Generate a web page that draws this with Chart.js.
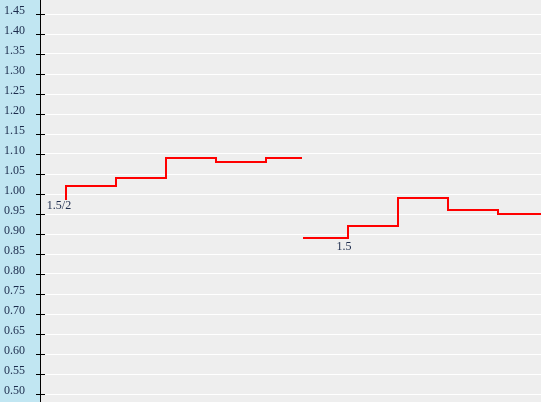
<!DOCTYPE html>
<html>
<head>
<meta charset="utf-8">
<script src="https://cdn.jsdelivr.net/npm/chart.js@4/dist/chart.umd.min.js"></script>
<style>
  html, body { margin: 0; padding: 0; background: #eeeeee; }
  #wrap { width: 541px; height: 402px; }
</style>
</head>
<body>
<div id="wrap"><canvas id="stepChart"></canvas></div>
<script>
// tick values on the y axis
const yTicks = [0.50, 0.55, 0.60, 0.65, 0.70, 0.75, 0.80, 0.85, 0.90, 0.95,
                1.00, 1.05, 1.10, 1.15, 1.20, 1.25, 1.30, 1.35, 1.40, 1.45];

// first step series
const series1X = [0.52, 0.52, 1.52, 2.52, 3.52, 4.52, 5.24];
const series1Y = [0.985, 1.02, 1.04, 1.09, 1.08, 1.09, 1.09];

// second step series
const series2X = [5.26, 6.16, 7.16, 8.16, 9.16, 10.4];
const series2Y = [0.89, 0.92, 0.99, 0.96, 0.95, 0.95];

// text labels
const markLabels = ['1.5/2', '1.5'];
const markX = [0.38, 6.08];
const markY = [0.97, 0.868];

const toPoints = (xs, ys) => xs.map((x, i) => ({ x: x, y: ys[i] }));

const textColor = '#1c2b4c';

const backdrop = {
    id: 'backdrop',
    beforeDraw(chart) {
        const { ctx, chartArea } = chart;
        ctx.save();
        ctx.fillStyle = '#c1e6f2';
        ctx.fillRect(0, 0, chartArea.left, chart.height);
        ctx.fillStyle = '#eeeeee';
        ctx.fillRect(chartArea.left, 0, chart.width - chartArea.left, chart.height);
        ctx.restore();
    },
    afterDraw(chart) {
        const { ctx, chartArea } = chart;
        const y = chart.scales.y;
        const x = chart.scales.x;
        ctx.save();
        // tick marks crossing the axis line
        ctx.strokeStyle = '#000';
        ctx.lineWidth = 1;
        y.ticks.forEach(t => {
            const py = Math.round(y.getPixelForValue(t.value)) + 0.5;
            ctx.beginPath();
            ctx.moveTo(chartArea.left - 4, py);
            ctx.lineTo(chartArea.left + 5, py);
            ctx.stroke();
        });
        // point labels
        ctx.fillStyle = textColor;
        ctx.font = '12px "Liberation Serif", "DejaVu Serif", serif';
        ctx.textAlign = 'center';
        ctx.textBaseline = 'middle';
        markLabels.forEach((txt, i) => {
            ctx.fillText(txt, x.getPixelForValue(markX[i]), y.getPixelForValue(markY[i]));
        });
        ctx.restore();
    }
};

new Chart(document.getElementById('stepChart').getContext('2d'), {
    type: 'line',
    data: {
        datasets: [
            {
                data: toPoints(series1X, series1Y),
                borderColor: '#ff0000',
                borderWidth: 2,
                stepped: 'before',
                pointRadius: 0,
                fill: false
            },
            {
                data: toPoints(series2X, series2Y),
                borderColor: '#ff0000',
                borderWidth: 2,
                stepped: 'before',
                pointRadius: 0,
                fill: false
            }
        ]
    },
    options: {
        responsive: true,
        maintainAspectRatio: false,
        animation: false,
        layout: { padding: 0, autoPadding: false },
        plugins: {
            legend: { display: false },
            tooltip: { enabled: false }
        },
        scales: {
            x: {
                type: 'linear',
                display: false,
                min: 0,
                max: 10.02
            },
            y: {
                type: 'linear',
                min: 0.48,
                max: 1.485,
                afterBuildTicks(scale) {
                    scale.ticks = yTicks.map(v => ({ value: v }));
                },
                afterFit(scale) {
                    scale.width = 40;
                    scale.paddingTop = 0;
                    scale.paddingBottom = 0;
                },
                grid: {
                    color: '#ffffff',
                    lineWidth: 1,
                    drawTicks: false
                },
                border: {
                    display: true,
                    color: '#000000',
                    width: 1
                },
                ticks: {
                    padding: 15,
                    labelOffset: -3,
                    color: textColor,
                    font: { family: '"Liberation Serif", "DejaVu Serif", serif', size: 12 },
                    callback: v => Number(v).toFixed(2)
                }
            }
        }
    },
    plugins: [backdrop]
});
</script>
</body>
</html>
